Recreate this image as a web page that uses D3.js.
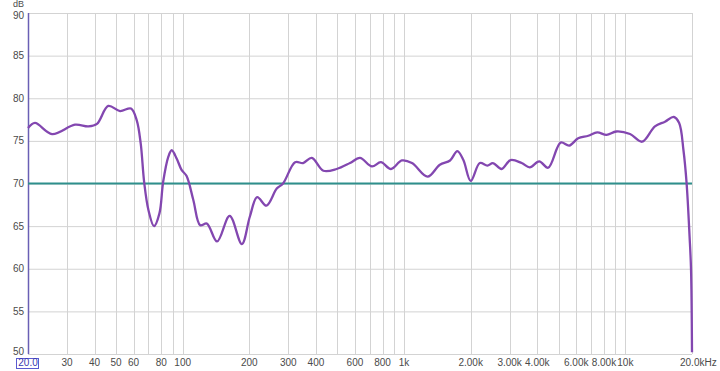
<!DOCTYPE html>
<html>
<head>
<meta charset="utf-8">
<script src="https://cdn.jsdelivr.net/npm/d3@7"></script>
<style>
  body { margin: 0; background: #fff; }
  text { font-family: "Liberation Sans", Arial, sans-serif; font-size: 10px; fill: #4a4a4a; }
</style>
</head>
<body>
<script>
// measured response (Hz, dB)
let freqs = [20, 21.5, 25.7, 32.6, 37.5, 41, 46.1, 52.1, 58.4, 62, 64.6, 67, 70, 74.2, 78.5, 81.6, 86, 89.2, 94, 98.8,
  104, 111.6, 120, 128.6, 143, 163, 185, 201, 217, 239, 266, 284, 322, 350, 383, 432, 496, 570,
  632, 716, 786, 873, 978, 1086, 1278, 1452, 1614, 1741, 1854, 2000, 2200, 2380, 2520, 2760, 3030, 3400, 3700,
  4080, 4480, 5100, 5580, 6120, 6800, 7460, 8220, 9100, 10500, 11900, 13600, 15100, 16560, 17500, 18300, 18900,
  19500, 19800, 20000];
let levels = [76.5, 77.1, 75.8, 76.9, 76.7, 77.0, 79.1, 78.5, 78.8, 77.4, 74.7, 70.1, 66.9, 65.0, 66.5, 70.2, 73.1, 73.9, 72.9, 71.6,
  70.9, 68.1, 65.1, 65.3, 63.2, 66.2, 62.9, 66.1, 68.4, 67.4, 69.4, 70.0, 72.5, 72.4, 73.0, 71.5, 71.7, 72.4,
  73.0, 72.0, 72.5, 71.7, 72.7, 72.4, 70.8, 72.2, 72.7, 73.8, 72.75, 70.3, 72.4, 72.1, 72.4, 71.7, 72.75, 72.4, 71.9,
  72.6, 71.85, 74.8, 74.45, 75.3, 75.6, 76.0, 75.7, 76.1, 75.8, 74.9, 76.7, 77.25, 77.8, 77.1, 73.9, 70.1,
  63.8, 59.9, 50.2];
let targetLevel = 70;
let yTicks = [50, 55, 60, 65, 70, 75, 80, 85, 90];
let gridFreqs = [30, 40, 50, 60, 70, 80, 90, 100, 200, 300, 400, 500, 600, 700, 800, 900, 1000,
  2000, 3000, 4000, 5000, 6000, 7000, 8000, 9000, 10000, 20000];
let xLabels = [[30, "30"], [40, "40"], [50, "50"], [60, "60"], [80, "80"], [100, "100"], [200, "200"], [300, "300"],
  [400, "400"], [600, "600"], [800, "800"], [1000, "1k"], [2000, "2.00k"], [3000, "3.00k"], [4000, "4.00k"],
  [6000, "6.00k"], [8000, "8.00k"], [10000, "10k"]];

let svgWidth = 720, svgHeight = 371;
let margins = { left: 28, top: 13, right: 28, bottom: 17 };

let svg = d3.select("body").append("svg")
  .attr("width", svgWidth)
  .attr("height", svgHeight);

let xScale = d3.scaleLog()
  .domain([20, 20000])
  .range([margins.left, svgWidth - margins.right]);
let yScale = d3.scaleLinear()
  .domain([50, 90])
  .range([svgHeight - margins.bottom, margins.top]);

// grid
svg.append("g").selectAll("line").data(yTicks).join("line")
  .attr("x1", xScale(20)).attr("x2", xScale(20000))
  .attr("y1", d => yScale(d) + 0.5).attr("y2", d => yScale(d) + 0.5)
  .attr("stroke", "#d3d3d3");
svg.append("g").selectAll("line").data(gridFreqs).join("line")
  .attr("x1", d => Math.round(xScale(d)) + 0.5).attr("x2", d => Math.round(xScale(d)) + 0.5)
  .attr("y1", yScale(90)).attr("y2", yScale(50))
  .attr("stroke", "#d3d3d3");

// left axis line
svg.append("line")
  .attr("x1", xScale(20) + 0.5).attr("x2", xScale(20) + 0.5)
  .attr("y1", yScale(90)).attr("y2", yScale(50))
  .attr("stroke", "#6a5fb5").attr("stroke-width", 1.5);

// y labels (end ones nudged inside)
svg.append("g").selectAll("text").data(yTicks).join("text")
  .attr("x", 24).attr("y", d => yScale(d) + (d === 50 ? -3 : d === 90 ? 2 : 0))
  .attr("text-anchor", "end").attr("dy", "0.35em")
  .text(d => d);
svg.append("text").attr("x", 24).attr("y", 7).attr("text-anchor", "end")
  .style("font-size", "9px").text("dB");

// x labels
svg.append("g").selectAll("text").data(xLabels).join("text")
  .attr("x", d => xScale(d[0])).attr("y", 366)
  .attr("text-anchor", "middle")
  .text(d => d[1]);
svg.append("text").attr("x", xScale(20000) - 12).attr("y", 366).text("20.0kHz");
svg.append("rect")
  .attr("x", 16.5).attr("y", 358.5).attr("width", 22).attr("height", 10)
  .attr("fill", "#fff").attr("stroke", "#5a5ad0");
svg.append("text").attr("x", xScale(20)).attr("y", 366)
  .attr("text-anchor", "middle").style("fill", "#3a3ab0").text("20.0");

// target line
svg.append("line")
  .attr("x1", xScale(20)).attr("x2", xScale(20000))
  .attr("y1", yScale(targetLevel)).attr("y2", yScale(targetLevel))
  .attr("stroke", "#2e8f8c").attr("stroke-width", 2);

// response curve
let line = d3.line()
  .x((d, i) => xScale(freqs[i]))
  .y(d => yScale(d))
  .curve(d3.curveCatmullRom.alpha(0.5));
svg.append("path").datum(levels)
  .attr("d", line)
  .attr("fill", "none")
  .attr("stroke", "#8347b0")
  .attr("stroke-width", 2.3);
</script>
</body>
</html>
